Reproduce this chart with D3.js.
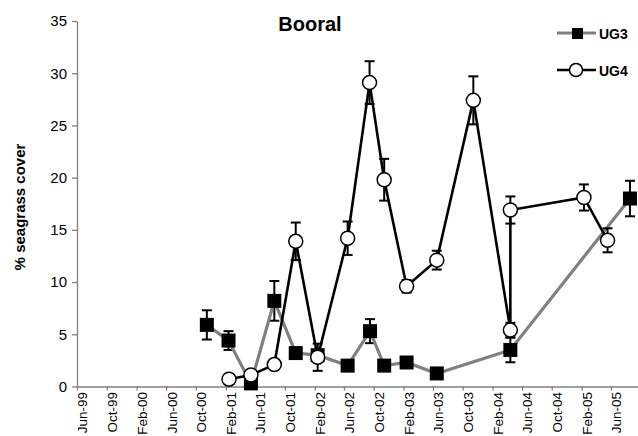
<!DOCTYPE html>
<html>
<head>
<meta charset="utf-8">
<script src="https://cdn.jsdelivr.net/npm/d3@7"></script>
<style>
  body { margin: 0; background: #fff; }
  text { font-family: Arial, "Liberation Sans", sans-serif; }
</style>
</head>
<body>
<svg id="chart" width="638" height="436"></svg>
<script>
// axis tick labels (every 4 months)
var tickLabels = ["Jun-99","Oct-99","Feb-00","Jun-00","Oct-00","Feb-01","Jun-01","Oct-01","Feb-02",
  "Jun-02","Oct-02","Feb-03","Jun-03","Oct-03","Feb-04","Jun-04","Oct-04","Feb-05","Jun-05"];
var yTicks = [0, 5, 10, 15, 20, 25, 30, 35];

// UG3 series
var ug3Dates = ["2000-11-15","2001-02-12","2001-05-15","2001-08-19","2001-11-15","2002-02-13","2002-06-16",
  "2002-09-16","2002-11-13","2003-02-13","2003-06-17","2004-04-14","2005-08-18"];
var ug3Cover = [5.9, 4.4, 0.3, 8.2, 3.2, 3.0, 2.0, 5.3, 2.0, 2.3, 1.25, 3.5, 18.0];
var ug3Err   = [1.4, 0.9, 0.2, 1.9, 0.4, 0.4, 0.2, 1.15, 0.2, 0.2, 0.2, 1.18, 1.7];

// UG4 series
var ug4Dates = ["2001-02-14","2001-05-15","2001-08-19","2001-11-15","2002-02-13","2002-06-16","2002-09-14",
  "2002-11-13","2003-02-13","2003-06-17","2003-11-14","2004-04-14","2004-04-14","2005-02-10","2005-05-18"];
var ug4Cover = [0.7, 1.1, 2.1, 13.9, 2.8, 14.2, 29.1, 19.8, 9.6, 12.1, 27.4, 5.4, 16.9, 18.1, 14.0];
var ug4Err   = [0, 0, 0, 1.8, 1.3, 1.6, 2.05, 2.0, 0.6, 0.9, 2.3, 0.7, 1.3, 1.25, 1.15];

var parseDay = d3.timeParse("%Y-%m-%d");
var parseTick = d3.timeParse("%b-%y");

function rows(dates, vals, errs) {
  return dates.map(function (d, i) { return {date: parseDay(d), v: vals[i], e: errs[i]}; });
}
var ug3 = rows(ug3Dates, ug3Cover, ug3Err);
var ug4 = rows(ug4Dates, ug4Cover, ug4Err);

var svg = d3.select("#chart");

var x = d3.scaleTime()
  .domain([parseTick("Jun-99"), new Date(2005, 8, 20)])
  .range([77, 638]);
var y = d3.scaleLinear().domain([0, 35]).range([386.5, 21]);

// y axis
var gy = svg.append("g").attr("transform", "translate(77,0)")
  .call(d3.axisLeft(y).tickValues(yTicks).tickSize(5).tickSizeOuter(0).tickPadding(5));
gy.select(".domain").attr("stroke", "#808080").attr("stroke-width", 1.3);
gy.selectAll(".tick line").attr("stroke", "#808080").attr("stroke-width", 1.3);
gy.selectAll(".tick text").attr("font-size", 15).attr("fill", "#000")
  .style("font-family", "Arial, 'Liberation Sans', sans-serif");

// x axis
var xFont = 13.5;
var gx = svg.append("g").attr("transform", "translate(0,386.5)")
  .call(d3.axisBottom(x)
    .tickValues(tickLabels.map(parseTick))
    .tickFormat(function (d, i) { return tickLabels[i]; })
    .tickSize(4).tickSizeOuter(0));
gx.select(".domain").attr("stroke", "#808080").attr("stroke-width", 1.3);
gx.selectAll(".tick line").attr("stroke", "#808080").attr("stroke-width", 1.3);
gx.selectAll(".tick text")
  .attr("font-size", xFont).attr("fill", "#000")
  .style("font-family", "Arial, 'Liberation Sans', sans-serif")
  .attr("text-anchor", "end")
  .attr("transform", "rotate(-90)")
  .attr("x", -5.5).attr("dy", null)
  .attr("y", 5 + 0.36 * xFont);

// title and axis label
svg.append("text").attr("x", 310).attr("y", 31).attr("text-anchor", "middle")
  .attr("font-size", 20).attr("font-weight", "bold").text("Booral");
svg.append("text").attr("transform", "translate(25,207) rotate(-90)").attr("text-anchor", "middle")
  .attr("font-size", 15).attr("font-weight", "bold").text("% seagrass cover");

var line = d3.line().x(function (d) { return x(d.date); }).y(function (d) { return y(d.v); });

function errorBars(data) {
  var g = svg.append("g").attr("stroke", "#000").attr("stroke-width", 2);
  var eb = data.filter(function (d) { return d.e > 0; });
  g.selectAll("line.v").data(eb).join("line")
    .attr("x1", function (d) { return x(d.date); }).attr("x2", function (d) { return x(d.date); })
    .attr("y1", function (d) { return y(d.v + d.e); }).attr("y2", function (d) { return y(d.v - d.e); });
  g.selectAll("line.t").data(eb).join("line").attr("class", "t")
    .attr("x1", function (d) { return x(d.date) - 5; }).attr("x2", function (d) { return x(d.date) + 5; })
    .attr("y1", function (d) { return y(d.v + d.e); }).attr("y2", function (d) { return y(d.v + d.e); });
  g.selectAll("line.b").data(eb).join("line").attr("class", "b")
    .attr("x1", function (d) { return x(d.date) - 5; }).attr("x2", function (d) { return x(d.date) + 5; })
    .attr("y1", function (d) { return y(d.v - d.e); }).attr("y2", function (d) { return y(d.v - d.e); });
}

// UG3
errorBars(ug3);
svg.append("path").datum(ug3).attr("d", line)
  .attr("fill", "none").attr("stroke", "#808080").attr("stroke-width", 3.2);
svg.append("g").selectAll("rect").data(ug3).join("rect")
  .attr("x", function (d) { return x(d.date) - 7; })
  .attr("y", function (d) { return y(d.v) - 7; })
  .attr("width", 14).attr("height", 14).attr("fill", "#000");

// UG4
errorBars(ug4);
svg.append("path").datum(ug4).attr("d", line)
  .attr("fill", "none").attr("stroke", "#000").attr("stroke-width", 2.6);
svg.append("g").selectAll("circle").data(ug4).join("circle")
  .attr("cx", function (d) { return x(d.date); })
  .attr("cy", function (d) { return y(d.v); })
  .attr("r", 7).attr("fill", "#fff").attr("stroke", "#000").attr("stroke-width", 1.5);

// legend
var lg = svg.append("g");
lg.append("line").attr("x1", 557).attr("x2", 596).attr("y1", 33).attr("y2", 33)
  .attr("stroke", "#808080").attr("stroke-width", 3);
lg.append("rect").attr("x", 572).attr("y", 28).attr("width", 11).attr("height", 11).attr("fill", "#000");
lg.append("text").attr("x", 599).attr("y", 38.5).attr("font-size", 14).attr("font-weight", "bold").text("UG3");
lg.append("line").attr("x1", 557).attr("x2", 596).attr("y1", 70).attr("y2", 70)
  .attr("stroke", "#000").attr("stroke-width", 2.4);
lg.append("circle").attr("cx", 576).attr("cy", 70).attr("r", 6.5)
  .attr("fill", "#fff").attr("stroke", "#000").attr("stroke-width", 1.5);
lg.append("text").attr("x", 599).attr("y", 75.5).attr("font-size", 14).attr("font-weight", "bold").text("UG4");
</script>
</body>
</html>
